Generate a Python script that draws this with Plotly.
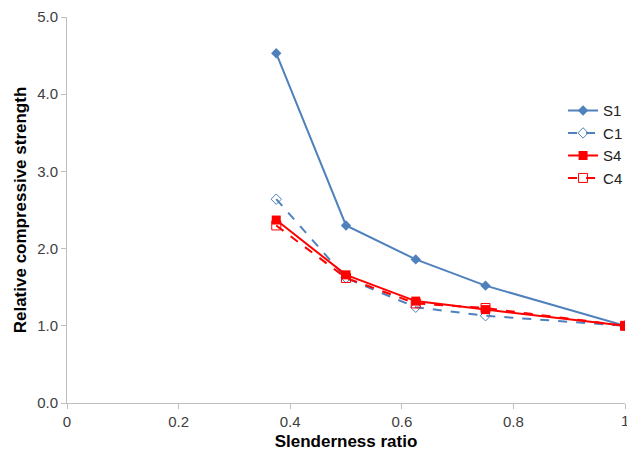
import plotly.graph_objects as go

# Slenderness ratio (x) and relative compressive strength for each specimen series
slenderness = [0.375, 0.5, 0.625, 0.75, 1.0]
s1 = [4.53, 2.30, 1.86, 1.52, 1.00]
c1 = [2.64, 1.62, 1.24, 1.13, 1.00]
s4 = [2.37, 1.66, 1.32, 1.21, 1.00]
c4 = [2.30, 1.62, 1.29, 1.23, 1.00]

x_ticks = [0, 0.2, 0.4, 0.6, 0.8, 1.0]
x_tick_text = ["0", "0.2", "0.4", "0.6", "0.8", "1"]
y_ticks = [0, 1, 2, 3, 4, 5]
y_tick_text = ["0.0", "1.0", "2.0", "3.0", "4.0", "5.0"]

BLUE = "#4F81BD"
RED = "#FF0000"

fig = go.Figure()
fig.add_trace(go.Scatter(
    x=slenderness, y=s1, name="S1", mode="lines+markers",
    line=dict(color=BLUE, width=2),
    marker=dict(symbol="diamond", size=8, color=BLUE),
))
fig.add_trace(go.Scatter(
    x=slenderness, y=c1, name="C1", mode="lines+markers",
    line=dict(color=BLUE, width=2, dash="dash"),
    marker=dict(symbol="diamond-open", size=8, color=BLUE, line=dict(width=1)),
))
fig.add_trace(go.Scatter(
    x=slenderness, y=s4, name="S4", mode="lines+markers",
    line=dict(color=RED, width=2),
    marker=dict(symbol="square", size=9, color=RED),
))
fig.add_trace(go.Scatter(
    x=slenderness, y=c4, name="C4", mode="lines+markers",
    line=dict(color=RED, width=2, dash="dash"),
    marker=dict(symbol="square-open", size=9, color=RED, line=dict(width=1)),
))

FONT = "Liberation Sans, Arial, sans-serif"
axis_font = dict(family=FONT, size=15, color="#404040")
title_font = dict(family=FONT, size=17, color="black")

# The last x tick label sits on the right page edge; plotly drops it from the
# axis, so it is drawn as an annotation at the same data position.
edge_label = dict(
    x=x_ticks[-1], y=0, xref="x", yref="paper",
    text=x_tick_text[-1], showarrow=False,
    xanchor="center", yanchor="top", yshift=-7,
    font=axis_font,
)

fig.update_layout(
    width=627, height=454,
    margin=dict(l=67, r=2, t=17, b=51, autoexpand=False),
    paper_bgcolor="white", plot_bgcolor="white",
    font=dict(family=FONT),
    showlegend=True,
    legend=dict(
        x=0.889, y=0.80, xanchor="left", yanchor="top",
        bgcolor="rgba(0,0,0,0)",
        font=dict(family=FONT, size=15, color="#222222"),
        itemwidth=30, tracegroupgap=0,
    ),
    annotations=[edge_label],
    xaxis=dict(
        range=[0, 1], tickvals=x_ticks, ticktext=x_tick_text,
        automargin=False,
        showgrid=False, zeroline=False,
        showline=True, linecolor="#BFBFBF", linewidth=1,
        ticks="outside", tickcolor="#BFBFBF", ticklen=5,
        tickfont=axis_font,
        title=dict(text="<b>Slenderness ratio</b>", font=title_font, standoff=6),
    ),
    yaxis=dict(
        range=[0, 5], tickvals=y_ticks, ticktext=y_tick_text,
        automargin=False,
        showgrid=False, zeroline=False,
        showline=True, linecolor="#BFBFBF", linewidth=1,
        ticks="outside", tickcolor="#BFBFBF", ticklen=5,
        tickfont=axis_font,
        title=dict(text="<b>Relative compressive strength</b>", font=title_font, standoff=6),
    ),
)

fig.write_html("out.html")
